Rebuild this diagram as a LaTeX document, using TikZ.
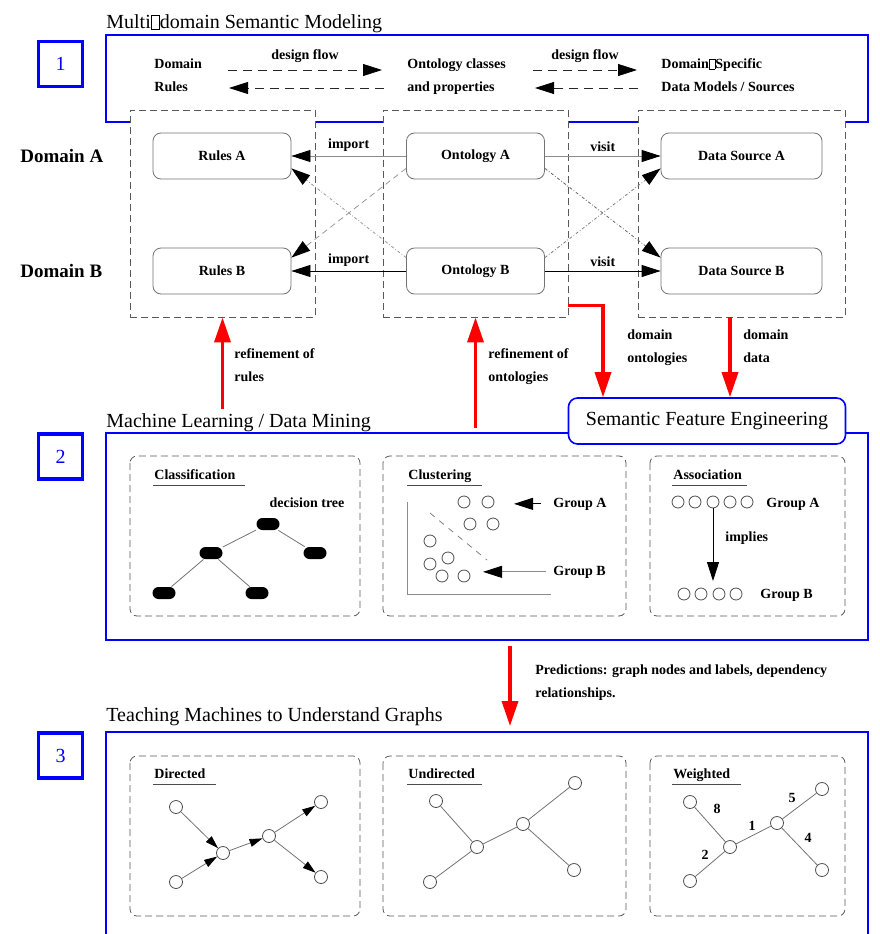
\documentclass[tikz,border=0pt]{standalone}
\usepackage{fontspec}
\setmainfont{Liberation Serif}
\usetikzlibrary{arrows.meta}
\newcommand{\lblfont}{\fontsize{14}{23}\selectfont\bfseries}
\newcommand{\ttlfont}{\fontsize{20}{24}\selectfont}
\newcommand{\nochar}{{\fboxsep=0pt\fboxrule=0.5pt\fbox{\rule{0pt}{0.68em}\hspace{0.4em}}}}
\tikzset{
  bluebox/.style={draw=blue, line width=1.6pt},
  numbox/.style={draw=blue, line width=3.2pt, minimum width=44, minimum height=45, text=blue, font=\ttlfont},
  column/.style={draw=black!65, dash pattern=on 7pt off 4pt, fill=white},
  panel/.style={draw=black!65, dash pattern=on 7pt off 4pt, rounded corners=7pt},
  item/.style={draw=black!55, rounded corners=8pt, minimum width=138, minimum height=46, font=\lblfont, fill=white},
  lbl/.style={font=\lblfont, inner sep=1pt, text=black},
  headline/.style={font=\ttlfont, inner sep=0pt},
  domlbl/.style={font=\fontsize{19}{22}\selectfont\bfseries, inner sep=0pt},
  sfebox/.style={draw=blue, line width=1.6pt, rounded corners=9pt, fill=white, minimum width=277, minimum height=46, font=\ttlfont},
  headL/.style={-{Triangle[length=19pt,width=12pt,black]}},
  headS/.style={-{Triangle[length=13pt,width=8pt,black]}},
  redarrow/.style={draw=red, line width=3.5pt, -{Triangle[length=25pt,width=16pt]}},
  dflow/.style={black!85, dash pattern=on 9pt off 6pt, headL},
  uline/.style={black!70},
  leaf/.style={fill=black, rounded corners=6pt, minimum width=23, minimum height=12, inner sep=0pt},
  blob/.style={circle, draw=black!70, minimum size=12, inner sep=0pt},
  vtx/.style={circle, draw=black!70, minimum size=13, inner sep=0pt}
}
\begin{document}
\begin{tikzpicture}[x=1pt,y=-1pt,line width=0.8pt]
\useasboundingbox (0,0) rectangle (879,934);

\draw[bluebox] (106,35) rectangle (868,122);
\node[numbox] (n1) at (60.5,64) {1};
\node[headline, anchor=base west] (t1) at (106,29) {Multi\nochar domain Semantic Modeling};
\node[lbl, align=left, anchor=base west] (rulesTxt) at (153,92) {Domain\\Rules};
\node[lbl, align=left, anchor=base west] (ontoTxt) at (406,92) {Ontology classes\\and properties};
\node[lbl, align=left, anchor=base west] (dataTxt) at (660,92) {Domain\nochar Specific\\Data Models / Sources};
\coordinate (df1a) at (228,70);
\coordinate (df1b) at (382,70);
\coordinate (df1c) at (384,88);
\coordinate (df1d) at (229,88);
\coordinate (df2a) at (533,70);
\coordinate (df2b) at (637,70);
\coordinate (df2c) at (638,88);
\coordinate (df2d) at (535,88);
\draw[dflow] (df1a) -- node[lbl, above=6pt] {design flow} (df1b);
\draw[dflow] (df1c) -- (df1d);
\draw[dflow] (df2a) -- node[lbl, above=6pt] {design flow} (df2b);
\draw[dflow] (df2c) -- (df2d);

\node[column, minimum width=185, minimum height=207] (colRules) at (222.5,213.5) {};
\node[column, minimum width=185, minimum height=207] (colOnto) at (475.5,213.5) {};
\node[column, minimum width=207, minimum height=207] (colData) at (741.5,213.5) {};

\node[domlbl, anchor=base west] (domA) at (20,162) {Domain A};
\node[domlbl, anchor=base west] (domB) at (20,277) {Domain B};
\node[item] (rulesA) at (222,156) {Rules A};
\node[item] (ontoA) at (475.5,156) {Ontology A};
\node[item, minimum width=161] (dataA) at (741.5,156) {Data Source A};
\node[item] (rulesB) at (222,271) {Rules B};
\node[item] (ontoB) at (475.5,271) {Ontology B};
\node[item, minimum width=161] (dataB) at (741.5,271) {Data Source B};
\draw[black!45, headL] (ontoA) -- node[lbl, above=3pt] {import} (rulesA);
\draw[headL] (ontoB) -- node[lbl, above=3pt] {import} (rulesB);
\draw[black!45, headL] (ontoA) -- node[lbl, above=3pt] {visit} (dataA);
\draw[headL] (ontoB) -- node[lbl, above=3pt] {visit} (dataB);
\draw[black!40, dash pattern=on 6pt off 4pt, headL] ([yshift=11pt]ontoA.south west) -- ([yshift=-10pt]rulesB.north east);
\draw[black!40, dash dot, headL] ([yshift=-10pt]ontoB.north west) -- ([yshift=11pt]rulesA.south east);
\draw[black!60, dash dot, headL] ([yshift=11pt]ontoA.south east) -- ([yshift=-10pt]dataB.north west);
\draw[black!50, dash dot, headL] ([yshift=-10pt]ontoB.north east) -- ([yshift=11pt]dataA.south west);

\draw[bluebox] (106,433) rectangle (868,640);
\node[numbox] (n2) at (60.5,456.5) {2};
\node[headline, anchor=base west] (t2) at (106,427) {Machine Learning / Data Mining};
\node[sfebox] (sfe) at (707,421) {Semantic Feature Engineering};
\coordinate (refR) at (222.5,409);
\coordinate (refO) at (475.5,428);
\draw[redarrow] (refR) -- (colRules.south);
\node[lbl, align=left, anchor=base west] at (233,381) {refinement of\\rules};
\draw[redarrow] (refO) -- (colOnto.south);
\node[lbl, align=left, anchor=base west] at (487,381) {refinement of\\ontologies};
\draw[redarrow] ([yshift=12pt]colOnto.south east) -| ([xshift=-104pt]sfe.north);
\node[lbl, align=left, anchor=base west] at (626,362) {domain\\ontologies};
\draw[redarrow] ([xshift=-11.5pt]colData.south) -- ([xshift=23pt]sfe.north);
\node[lbl, align=left, anchor=base west] at (742,362) {domain\\data};

\draw[panel] (130,456) rectangle (360,616);
\draw[panel] (383,456) rectangle (626,616);
\draw[panel] (650,456) rectangle (845,616);

\node[lbl, anchor=base west] at (153,479) {Classification};
\draw[uline] (153,485) -- (245,485);
\node[lbl, anchor=base] at (307,507) {decision tree};
\node[leaf] (tr0) at (268,524) {};
\node[leaf] (tr1) at (211,553) {};
\node[leaf] (tr2) at (315,553) {};
\node[leaf] (tr3) at (164,593) {};
\node[leaf] (tr4) at (257,593) {};
\draw[black!55] (tr0) -- (tr1) (tr0) -- (tr2) (tr1) -- (tr3) (tr1) -- (tr4);

\node[lbl, anchor=base west] at (407,479) {Clustering};
\draw[uline] (407,485) -- (482,485);
\draw[black!45] (407,502) |- (551,594);
\foreach \x/\y [count=\i] in {464/502,488/502,470/524,493/524,430/541,430/564,448/558,442/576,464/576}
  \node[blob] (c\i) at (\x,\y) {};
\draw[black!50, dash pattern=on 6pt off 6pt] (430,513) -- (487,560);
\node[lbl, anchor=base west] (grpA) at (552,507) {Group A};
\draw[headL] ([xshift=-11pt]grpA.west) -- ++(-27,0);
\node[lbl, anchor=base west] (grpB) at (552,575) {Group B};
\draw[black!45, headL] ([xshift=-6pt]grpB.west) -- ++(-63,0);

\node[lbl, anchor=base west] at (672,479) {Association};
\draw[uline] (672,485) -- (747,485);
\foreach \x [count=\i] in {678,695,713,730,747}
  \node[blob] (a\i) at (\x,502) {};
\foreach \x [count=\i] in {684,701,719,736}
  \node[blob] (b\i) at (\x,594) {};
\node[lbl, anchor=base west] at (765,507) {Group A};
\node[lbl, anchor=base west] at (759,598) {Group B};
\coordinate (impTip) at (713,581);
\draw[headL] (a3) -- (impTip);
\node[lbl, anchor=base west] at (724,541) {implies};

\coordinate (predS) at (510,646);
\coordinate (predE) at (510,726);
\draw[redarrow] (predS) -- (predE);
\node[lbl, align=left, anchor=base west] at (534,697) {Predictions: graph nodes and labels, dependency\\relationships.};
\node[headline, anchor=base west] (t3) at (106,721) {Teaching Machines to Understand Graphs};
\node[numbox] (n3) at (60.5,755.5) {3};
\draw[bluebox] (106,940) |- (868,732) -- (868,940);

\draw[panel] (130,756) rectangle (360,916);
\draw[panel] (383,756) rectangle (626,916);
\draw[panel] (650,756) rectangle (845,916);

\node[lbl, anchor=base west] at (153,778) {Directed};
\draw[uline] (153,784) -- (216,784);
\foreach \x/\y [count=\i] in {176/807,223/853,176/882,269/836,321/802,321/877}
  \node[vtx] (d\i) at (\x,\y) {};
\draw[black!55, headS] (d1) -- (d2);
\draw[black!55, headS] (d3) -- (d2);
\draw[black!55, headS] (d2) -- (d4);
\draw[black!55, headS] (d4) -- (d5);
\draw[black!55, headS] (d4) -- (d6);

\node[lbl, anchor=base west] at (407,778) {Undirected};
\draw[uline] (407,784) -- (482,784);
\foreach \x/\y [count=\i] in {436/801,477/847,430/882,523/824,575/783,574/870}
  \node[vtx] (u\i) at (\x,\y) {};
\draw[black!55] (u1) -- (u2) (u3) -- (u2) (u2) -- (u4) (u4) -- (u5) (u4) -- (u6);

\node[lbl, anchor=base west] at (672,778) {Weighted};
\draw[uline] (672,784) -- (741,784);
\foreach \x/\y [count=\i] in {690/802,730/847,690/881,777/823,822/789,822/870}
  \node[vtx] (w\i) at (\x,\y) {};
\draw[black!55] (w1) -- (w2) (w3) -- (w2) (w2) -- (w4) (w4) -- (w5) (w4) -- (w6);
\node[lbl, anchor=base] at (717,813) {8};
\node[lbl, anchor=base] at (705,859) {2};
\node[lbl, anchor=base] at (752,830) {1};
\node[lbl, anchor=base] at (792,802) {5};
\node[lbl, anchor=base] at (808,842) {4};
\end{tikzpicture}
\end{document}
